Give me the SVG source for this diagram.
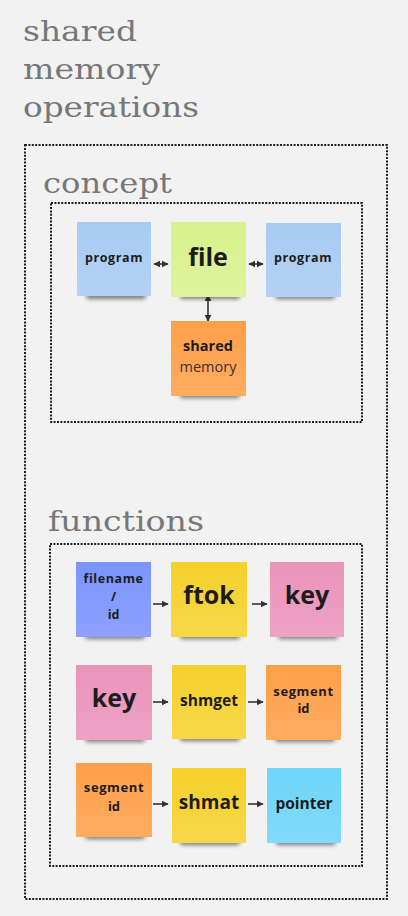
<svg xmlns="http://www.w3.org/2000/svg" width="408" height="916" viewBox="0 0 408 916">
<style>
.title{font-family:"DejaVu Serif","Liberation Serif",serif;font-size:27px;fill:#777;}
.frame{fill:none;stroke:#1e1e1e;stroke-width:2;stroke-dasharray:2 1.4;}
.t{font-family:"Open Sans","Noto Sans",sans-serif;font-weight:700;fill:#1c1c1c;text-anchor:middle;}
.r{font-family:"Open Sans","Noto Sans",sans-serif;font-weight:400;fill:#3a3030;text-anchor:middle;}
.conn{stroke:#333;stroke-width:1.6;fill:none;}
.sh{fill:#000;opacity:0.5;filter:url(#blur);}
.gl{fill:url(#gloss);}
</style>
<defs>
<filter id="blur" x="-20%" y="-100%" width="140%" height="300%"><feGaussianBlur stdDeviation="2"/></filter>
<linearGradient id="gloss" x1="0" y1="0" x2="0" y2="1">
<stop offset="0" stop-color="#fff" stop-opacity="0"/>
<stop offset="1" stop-color="#fff" stop-opacity="0.14"/>
</linearGradient>
<marker id="ah" viewBox="0 0 10 10" refX="9" refY="5" markerWidth="4.5" markerHeight="4.5" orient="auto-start-reverse" markerUnits="strokeWidth">
<path d="M0,0 L10,5 L0,10 Z" fill="#333"/>
</marker>
</defs>
<rect width="408" height="916" fill="#f2f2f2"/>

<g id="title">
<text class="title" x="23" y="41" textLength="114" lengthAdjust="spacingAndGlyphs">shared</text>
<text class="title" x="23" y="79" textLength="137" lengthAdjust="spacingAndGlyphs">memory</text>
<text class="title" x="23" y="117" textLength="176" lengthAdjust="spacingAndGlyphs">operations</text>
</g>

<rect class="frame" x="25" y="145" width="362" height="754"/>
<text class="title" x="43" y="193" textLength="129" lengthAdjust="spacingAndGlyphs" style="font-size:28px">concept</text>
<rect class="frame" x="51" y="203" width="311" height="219"/>
<text class="title" x="48" y="531" textLength="156" lengthAdjust="spacingAndGlyphs" style="font-size:28px">functions</text>
<rect class="frame" x="50" y="544" width="312" height="322"/>

<g id="connectors">
<line class="conn" x1="154" y1="264" x2="168" y2="264" marker-start="url(#ah)" marker-end="url(#ah)"/>
<line class="conn" x1="249" y1="264" x2="263" y2="264" marker-start="url(#ah)" marker-end="url(#ah)"/>
<line class="conn" x1="208" y1="295" x2="208" y2="321" marker-start="url(#ah)" marker-end="url(#ah)"/>
<line class="conn" x1="153" y1="604" x2="168" y2="604" marker-end="url(#ah)"/>
<line class="conn" x1="252" y1="604" x2="267" y2="604" marker-end="url(#ah)"/>
<line class="conn" x1="153" y1="702" x2="168" y2="702" marker-end="url(#ah)"/>
<line class="conn" x1="248" y1="702" x2="263" y2="702" marker-end="url(#ah)"/>
<line class="conn" x1="153" y1="804" x2="168" y2="804" marker-end="url(#ah)"/>
<line class="conn" x1="248" y1="804" x2="263" y2="804" marker-end="url(#ah)"/>
</g>

<g id="program1">
<rect class="sh" x="86" y="293" width="60" height="6" rx="3"/>
<rect x="77" y="222" width="74" height="74" fill="#a8cbf2"/>
<rect class="gl" x="77" y="222" width="74" height="74"/>
<text class="t" x="114" y="262" font-size="12.5" letter-spacing="0.6">program</text>
</g>
<g id="file">
<rect class="sh" x="180" y="293" width="60" height="6" rx="3"/>
<rect x="171" y="222" width="75" height="75" fill="#d8f28c"/>
<rect class="gl" x="171" y="222" width="75" height="75"/>
<text class="t" x="208" y="266" font-size="25">file</text>
</g>
<g id="program2">
<rect class="sh" x="275" y="293" width="60" height="6" rx="3"/>
<rect x="266" y="223" width="75" height="74" fill="#a8cbf2"/>
<rect class="gl" x="266" y="223" width="75" height="74"/>
<text class="t" x="303" y="262" font-size="12.5" letter-spacing="0.6">program</text>
</g>
<g id="shared-memory">
<rect class="sh" x="180" y="392" width="60" height="6" rx="3"/>
<rect x="171" y="321" width="75" height="75" fill="#ff9f48"/>
<rect class="gl" x="171" y="321" width="75" height="75"/>
<text class="t" x="208" y="351" font-size="14.5">shared</text>
<text class="r" x="208" y="372" font-size="14.5">memory</text>
</g>

<g id="filename">
<rect class="sh" x="85" y="633" width="60" height="6" rx="3"/>
<rect x="76" y="562" width="75" height="75" fill="#7b93fd"/>
<rect class="gl" x="76" y="562" width="75" height="75"/>
<text class="t" x="113.5" y="583" font-size="12.5" letter-spacing="0.6">filename</text>
<text class="t" x="113.5" y="601" font-size="12.5">/</text>
<text class="t" x="113.5" y="619" font-size="12.5">id</text>
</g>
<g id="ftok">
<rect class="sh" x="180" y="633" width="60" height="6" rx="3"/>
<rect x="171" y="562" width="76" height="75" fill="#f5d12b"/>
<rect class="gl" x="171" y="562" width="76" height="75"/>
<text class="t" x="209" y="604" font-size="25">ftok</text>
</g>
<g id="key1">
<rect class="sh" x="278" y="633" width="60" height="6" rx="3"/>
<rect x="270" y="562" width="74" height="75" fill="#ea93bb"/>
<rect class="gl" x="270" y="562" width="74" height="75"/>
<text class="t" x="307" y="604" font-size="25">key</text>
</g>

<g id="key2">
<rect class="sh" x="85" y="736" width="60" height="6" rx="3"/>
<rect x="76" y="665" width="76" height="75" fill="#ea93bb"/>
<rect class="gl" x="76" y="665" width="76" height="75"/>
<text class="t" x="114" y="707" font-size="25">key</text>
</g>
<g id="shmget">
<rect class="sh" x="180" y="735" width="60" height="6" rx="3"/>
<rect x="172" y="665" width="74" height="74" fill="#f5d12b"/>
<rect class="gl" x="172" y="665" width="74" height="74"/>
<text class="t" x="209" y="706" font-size="15.5">shmget</text>
</g>
<g id="segment-id1">
<rect class="sh" x="275" y="736" width="60" height="6" rx="3"/>
<rect x="266" y="665" width="75" height="75" fill="#ff9f48"/>
<rect class="gl" x="266" y="665" width="75" height="75"/>
<text class="t" x="303.5" y="696" font-size="13" letter-spacing="0.6">segment</text>
<text class="t" x="303.5" y="713" font-size="13">id</text>
</g>

<g id="segment-id2">
<rect class="sh" x="85" y="833" width="60" height="6" rx="3"/>
<rect x="76" y="763" width="76" height="74" fill="#ff9f48"/>
<rect class="gl" x="76" y="763" width="76" height="74"/>
<text class="t" x="114" y="792" font-size="13" letter-spacing="0.6">segment</text>
<text class="t" x="114" y="811" font-size="13">id</text>
</g>
<g id="shmat">
<rect class="sh" x="180" y="839" width="60" height="6" rx="3"/>
<rect x="172" y="768" width="74" height="75" fill="#f5d12b"/>
<rect class="gl" x="172" y="768" width="74" height="75"/>
<text class="t" x="209" y="809" font-size="19">shmat</text>
</g>
<g id="pointer">
<rect class="sh" x="276" y="839" width="60" height="6" rx="3"/>
<rect x="267" y="768" width="74" height="75" fill="#6dd5f8"/>
<rect class="gl" x="267" y="768" width="74" height="75"/>
<text class="t" x="304" y="809" font-size="15.5">pointer</text>
</g>
</svg>
